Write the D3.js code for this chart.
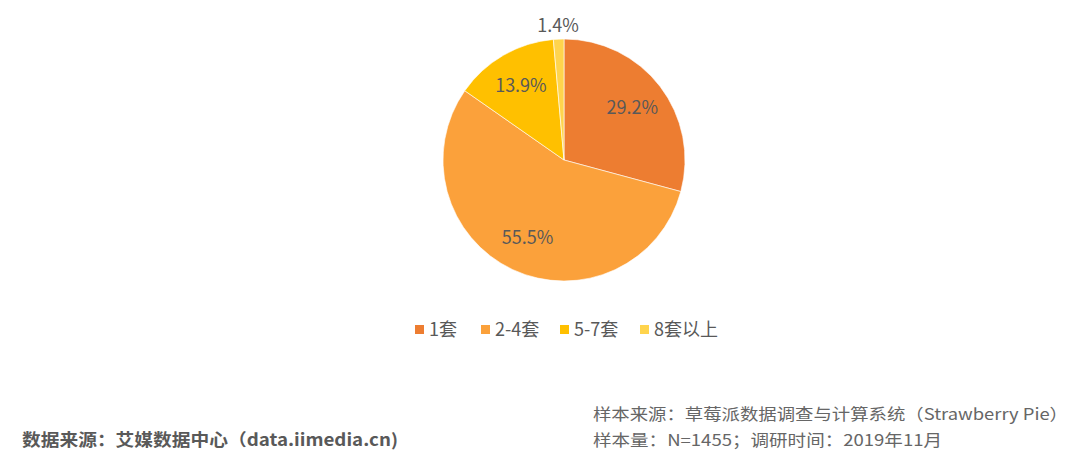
<!DOCTYPE html>
<html lang="zh">
<head>
    <meta charset="UTF-8">
    <title>套数分布</title>
    <script src="https://d3js.org/d3.v7.min.js"></script>
    <style>
        body { margin: 0; background: #fff; }
        svg text { font-family: "Noto Sans CJK SC", "Noto Sans", sans-serif; }
    </style>
</head>
<body>
    <div id="chart"></div>
    <script>
        const categories = ['1套', '2-4套', '5-7套', '8套以上'];
        const values = [29.2, 55.5, 13.9, 1.4];
        const colors = ['#ED7D31', '#FBA13B', '#FFC000', '#FFD44D'];

        const width = 1080, height = 455;
        const cx = 564, cy = 160, radius = 121;

        const svg = d3.select('#chart').append('svg')
            .attr('width', width)
            .attr('height', height);

        const data = categories.map((c, i) => ({ name: c, value: values[i], color: colors[i] }));

        const pie = d3.pie().sort(null).value(d => d.value);
        const arcs = pie(data);

        const arc = d3.arc().innerRadius(0).outerRadius(radius);
        const labelArc = d3.arc().innerRadius(86).outerRadius(86);
        const outerArc = d3.arc().innerRadius(134).outerRadius(134);

        const g = svg.append('g').attr('transform', `translate(${cx},${cy})`);

        g.selectAll('path')
            .data(arcs)
            .enter().append('path')
            .attr('d', arc)
            .attr('fill', d => d.data.color)
            .attr('stroke', '#fff')
            .attr('stroke-width', 0.6);

        // small slices get their label outside the pie
        g.selectAll('text.lbl')
            .data(arcs)
            .enter().append('text')
            .attr('class', 'lbl')
            .attr('transform', d => {
                const p = (d.endAngle - d.startAngle) < 0.2 ? outerArc.centroid(d) : labelArc.centroid(d);
                return `translate(${p[0]},${p[1]})`;
            })
            .attr('text-anchor', 'middle')
            .attr('dy', '0.35em')
            .attr('font-size', 18)
            .attr('fill', '#595959')
            .text(d => d.value.toFixed(1) + '%');

        // legend
        const legendOffsets = [415, 481, 560, 640];
        const lg = svg.append('g').selectAll('g')
            .data(data)
            .enter().append('g')
            .attr('transform', (d, i) => `translate(${legendOffsets[i]},330)`);
        lg.append('rect')
            .attr('x', 0).attr('y', -5)
            .attr('width', 9).attr('height', 9)
            .attr('fill', d => d.color);
        lg.append('text')
            .attr('x', 14).attr('y', 0)
            .attr('dy', '0.35em')
            .attr('font-size', 18)
            .attr('fill', '#595959')
            .text(d => d.name);

        // footer
        svg.append('text')
            .attr('x', 22).attr('y', 446)
            .attr('font-size', 17)
            .attr('font-weight', 'bold')
            .attr('fill', '#595959')
            .attr('textLength', 376)
            .attr('lengthAdjust', 'spacingAndGlyphs')
            .text('数据来源：艾媒数据中心（data.iimedia.cn)');
        svg.append('text')
            .attr('x', 593).attr('y', 420)
            .attr('font-size', 16)
            .attr('fill', '#666')
            .attr('textLength', 475)
            .attr('lengthAdjust', 'spacingAndGlyphs')
            .text('样本来源：草莓派数据调查与计算系统（Strawberry Pie）');
        svg.append('text')
            .attr('x', 593).attr('y', 446)
            .attr('font-size', 16)
            .attr('fill', '#666')
            .attr('textLength', 349)
            .attr('lengthAdjust', 'spacingAndGlyphs')
            .text('样本量：N=1455；调研时间：2019年11月');
    </script>
</body>
</html>
